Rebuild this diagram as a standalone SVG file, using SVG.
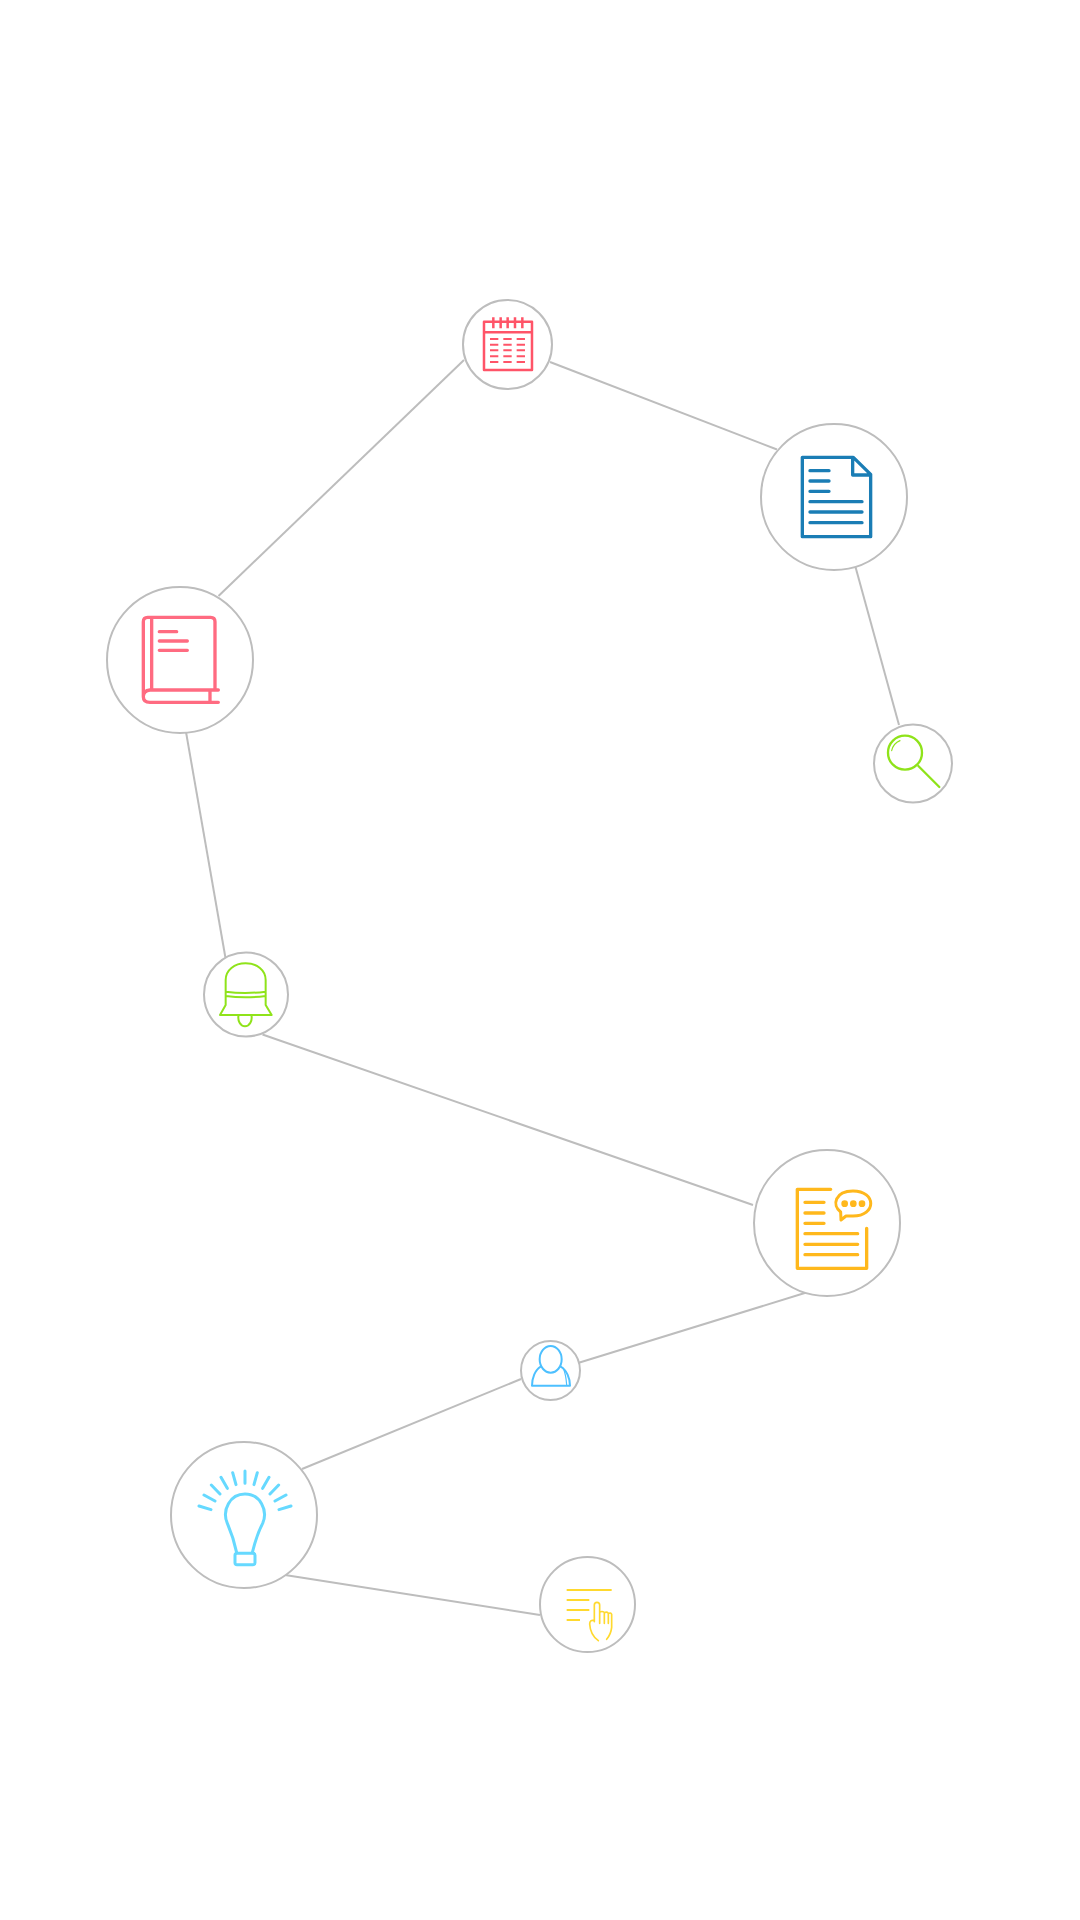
<svg xmlns="http://www.w3.org/2000/svg" width="1080" height="1920" viewBox="0 0 1080 1920">
<style>
.n{fill:#fff;stroke:#bdbdbd;stroke-width:2}
#connectors line{stroke:#bdbdbd;stroke-width:2}
.i{fill:none;stroke-linecap:round;stroke-linejoin:round}
</style>
<rect width="1080" height="1920" fill="#fff"/>
<g id="connectors">
<line x1="550" y1="362" x2="777" y2="449.5"/>
<line x1="464" y1="360" x2="218.5" y2="596"/>
<line x1="855.5" y1="567" x2="899" y2="725"/>
<line x1="186" y1="732" x2="225.5" y2="958"/>
<line x1="262.5" y1="1034.5" x2="753" y2="1205"/>
<line x1="808" y1="1292" x2="578" y2="1363"/>
<line x1="521" y1="1379" x2="302" y2="1469"/>
<line x1="285" y1="1575" x2="540" y2="1615"/>
</g>
<g id="calendar"><circle class="n" cx="507.5" cy="344.5" r="44.5"/>
<g class="i" transform="translate(440 280) scale(.3333)" stroke="#ff5468" stroke-width="7.5">
<rect x="132" y="125" width="144" height="145"/><path stroke-linecap="butt" d="M132 157H276M160 112V145M182 112V145M203 112V145M225 112V145M247 112V145"/>
<path stroke-width="6" stroke-linecap="butt" d="M150 177H175M190 177H215M230 177H255M150 194H175M190 194H215M230 194H255M150 211H175M190 211H215M230 211H255M150 229H175M190 229H215M230 229H255M150 246H175M190 246H215M230 246H255"/></g></g>
<g id="document"><circle class="n" cx="834" cy="497" r="73"/>
<g class="i" transform="translate(740 410) scale(.3333)" stroke="#1a7db5" stroke-width="10">
<path d="M187 142H340L392 193V380H187ZM338 142V195H392"/><path d="M210 182H267M210 213H267M210 244H267M210 275H366M210 306H366M210 338H366"/></g></g>
<g id="book"><circle class="n" cx="180" cy="660" r="73"/>
<g class="i" transform="translate(100 570) scale(.3333)" stroke="#ff6b81" stroke-width="10">
<path d="M355 360H150Q130 362 130 380Q130 397 150 397H355M130 380V155Q130 142 143 142H332Q345 142 345 155V360M155 142V360M330 360V397"/>
<path d="M178 185H230M178 213H262M178 241H262"/></g></g>
<g id="magnifier"><circle class="n" cx="913" cy="763.5" r="39"/>
<g class="i" transform="translate(860 710) scale(.3333)" stroke="#8fe31a" stroke-width="7">
<circle cx="135" cy="128" r="51"/><path d="M175 168L238 231"/><path stroke-width="3.5" d="M95 122Q100 100 120 92"/></g></g>
<g id="bell"><circle class="n" cx="246" cy="994.5" r="42"/>
<g class="i" transform="translate(195 935) scale(.3333)" stroke="#8fe31a" stroke-width="6">
<path d="M92 210V135C92 105 118 85 152 85C186 85 212 105 212 135V210L230 240H75ZM92 170Q150 178 212 170M92 183Q150 191 212 183"/><path d="M131 240A20 26 0 1 0 169 240"/></g></g>
<g id="chat"><circle class="n" cx="827" cy="1223" r="73"/>
<g class="i" transform="translate(740 1130) scale(.3333)" stroke="#ffb81c" stroke-width="10">
<path d="M272 178H172V415H380V295"/><path d="M195 217H252M195 249H252M195 280H252M195 311H353M195 343H353M195 374H353"/>
<path stroke-width="9" d="M303 270L302 246C275 225 285 183 339 183C410 183 410 258 339 258Q325 258 318 258Z"/>
<circle cx="314" cy="221" r="5" fill="#ffb81c"/><circle cx="340" cy="221" r="5" fill="#ffb81c"/><circle cx="366" cy="221" r="5" fill="#ffb81c"/></g></g>
<g id="person"><circle class="n" cx="550.5" cy="1370.5" r="29.5"/>
<g class="i" transform="translate(510 1335) scale(.3333)" stroke="#4dc0ff" stroke-width="6">
<ellipse cx="122" cy="73" rx="33" ry="40"/><path d="M92 95C75 105 66 130 66 152H180C180 130 170 105 152 95"/><path stroke-width="3.5" d="M160 100Q168 120 170 150"/></g></g>
<g id="bulb"><circle class="n" cx="244" cy="1515" r="73"/>
<g class="i" transform="translate(165 1420) scale(.3333)" stroke="#66d9ff" stroke-width="9">
<path d="M215 398C208 365 198 335 187 310C170 270 195 222 240 222C285 222 310 270 293 310C280 335 270 365 262 398"/>
<rect x="210" y="400" width="60" height="34" rx="6"/>
<path d="M240 153V190M203 158L213 194M168 172L187 205M139 195L165 222M117 225L150 243M102 258L138 269M277 158L267 194M312 172L293 205M341 195L315 222M363 225L330 243M378 258L342 269"/></g></g>
<g id="hand"><circle class="n" cx="587.5" cy="1604.5" r="47.5"/>
<g class="i" transform="translate(555 1570) scale(.3333)" stroke="#ffd92e">
<path stroke-width="6.5" stroke-linecap="butt" d="M35 60H170M35 90H103M35 120H103M35 150H75"/>
<path stroke-width="5" d="M118 155V105Q118 97 126 97Q134 97 134 105V160M134 127Q141 122 148 127V160M148 129Q155 124 160 130V160M160 131Q167 126 170 133V172Q168 192 155 208M118 152Q104 148 104 162Q106 195 130 212"/></g></g>
</svg>
